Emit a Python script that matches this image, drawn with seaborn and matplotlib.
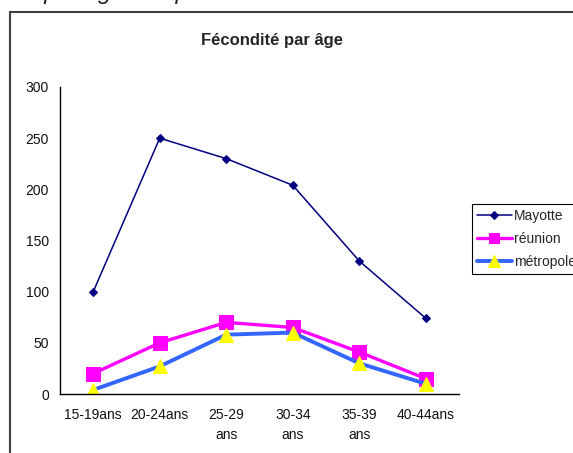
import numpy as np
import pandas as pd
import matplotlib.pyplot as plt
import seaborn as sns
from matplotlib.patches import Rectangle

sns.set_style('white')
plt.rcParams['font.family'] = ['Liberation Sans', 'DejaVu Sans']

# données
ages = ['15-19ans', '20-24ans', '25-29\nans', '30-34\nans', '35-39\nans', '40-44ans']
mayotte = [100, 250, 230, 204, 130, 74]
reunion = [20, 50, 70, 65, 41, 15]
metropole = [4, 27, 58, 60, 30, 10]

df = pd.DataFrame({
    'pos': np.arange(len(ages)),
    'Mayotte': mayotte,
    'réunion': reunion,
    'métropole': metropole,
})

W, H = 573, 453
fig = plt.figure(figsize=(W / 100, H / 100), dpi=100)
ax = fig.add_axes([60 / W, 59 / H, 399 / W, 307 / H])

sns.lineplot(data=df, x='pos', y='Mayotte', ax=ax, color='#000080', lw=1.1,
             marker='D', markersize=4.5, markeredgecolor='#000080', label='Mayotte')
sns.lineplot(data=df, x='pos', y='réunion', ax=ax, color='#FF00FF', lw=2.4,
             marker='s', markersize=9.5, markeredgecolor='#FF00FF', label='réunion')
sns.lineplot(data=df, x='pos', y='métropole', ax=ax, color='#3366FF', lw=2.8,
             marker='^', markersize=10, markerfacecolor='#FFFF00',
             markeredgecolor='#FFFF00', label='métropole')

# axes
ax.set_xlim(-0.5, len(ages) - 0.5)
ax.set_ylim(0, 300)
ax.set_yticks(np.arange(0, 301, 50))
ax.set_xticks(np.arange(-0.5, len(ages), 1.0))
ax.set_xticklabels([])
ax.set_xticks(np.arange(len(ages)), minor=True)
ax.set_xticklabels(ages, minor=True)
ax.set_xlabel('')
ax.set_ylabel('')
for s in ['top', 'right']:
    ax.spines[s].set_visible(False)
for s in ['left', 'bottom']:
    ax.spines[s].set_color('black')
    ax.spines[s].set_linewidth(1)
ax.tick_params(axis='both', which='major', direction='out', length=3.6, width=1,
               color='black', labelsize=10, labelcolor='#111111')
ax.tick_params(axis='y', pad=4.3)
ax.tick_params(axis='x', which='minor', length=0, pad=10, labelsize=10,
               labelcolor='#111111')
for lbl in ax.get_xticklabels(minor=True):
    lbl.set_linespacing(1.6)

leg = ax.legend(loc='upper left', bbox_to_anchor=(472 / W, 1 - 204 / H),
                bbox_transform=fig.transFigure, frameon=True, fancybox=False,
                edgecolor='black', framealpha=1, borderaxespad=0,
                handlelength=2.5, handletextpad=0.15, labelspacing=0.65,
                borderpad=0.35, fontsize=10, markerscale=0.8)
leg.get_frame().set_linewidth(0.8)

# titre et cadre
fig.text(272 / W, 1 - 40 / H, 'Fécondité par âge', ha='center', va='center',
         fontsize=12, weight='bold')
fig.add_artist(Rectangle((10 / W, -0.1), 1.2, (H - 12) / H + 0.1,
                         transform=fig.transFigure, fill=False,
                         lw=1.5, edgecolor='#404040'))
fig.text(235 / W, 1 + 1 / H, 'Fécondités par âge comparés', ha='right',
         va='baseline', fontsize=17, style='italic', color='#222222')

fig.savefig('out.png', dpi=100)
